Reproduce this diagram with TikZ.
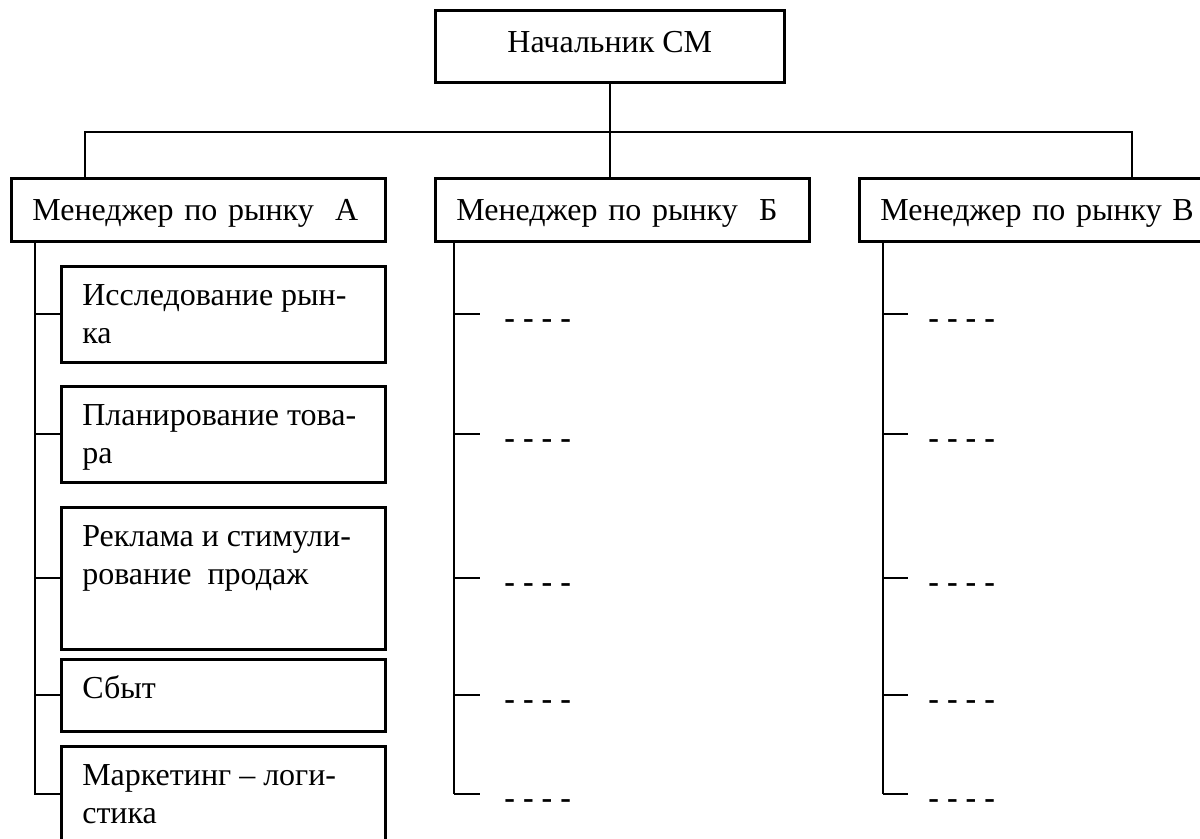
\documentclass[tikz,border=0pt]{standalone}
\usepackage{fontspec}
\setmainfont{Liberation Serif}
\usetikzlibrary{positioning}

% text of a department box, set from the top of the box
\newcommand{\subtext}[2]{\parbox[t][#1][t]{141pt}{\raggedright\rule{0pt}{19.5pt}#2}}

\begin{document}
\begin{tikzpicture}[x=0.5pt, y=-0.5pt,
	font=\fontsize{16}{19}\selectfont,
	box/.style={draw, line width=1.3pt, inner sep=0pt, anchor=north west},
	mgr/.style={box, minimum width=187pt, minimum height=31.5pt,
		inner xsep=10.5pt, text width=166pt, align=left,
		text height=10.5pt, text depth=0pt},
	sub/.style={box, inner xsep=10.5pt},
	line/.style={line width=1pt},
	dots/.style={inner sep=0pt, yshift=-5pt, font=\fontsize{16}{19}\selectfont\bfseries}]

	\useasboundingbox (0,0) rectangle (1200,839);
	\clip (0,0) rectangle (1200,839);

	\node[box, minimum width=174.5pt, minimum height=36pt,
		text height=10.5pt, text depth=4pt] (chief) at (434,9) {Начальник СМ};

	\node[mgr] (mA) at (10,177) {Менеджер по рынку~ А};
	\node[mgr] (mB) at (434,177) {Менеджер по рынку~ Б};
	\node[mgr] (mV) at (858,177) {Менеджер по рынку В};

	\node[sub] (s1) at (60,265) {\subtext{48pt}{Исследование рын-\\ка}};
	\node[sub] (s2) at (60,385) {\subtext{48pt}{Планирование това-\\ра}};
	\node[sub] (s3) at (60,506) {\subtext{71pt}{Реклама и стимули-\\рование~ продаж}};
	\node[sub] (s4) at (60,658) {\subtext{36pt}{Сбыт}};
	\node[sub] (s5) at (60,745) {\subtext{48pt}{Маркетинг – логи-\\стика}};

	% chief to the managers
	\coordinate (bus) at ([yshift=-24pt]chief.south);
	\draw[line] (chief.south) -- (chief.south |- mB.north);
	\draw[line] ([xshift=37.5pt]mA.north west) |- (bus)
	-| ([xshift=137pt]mV.north west);

	% spines under the managers
	\coordinate (spA) at ([xshift=12.5pt]mA.south west);
	\coordinate (spB) at ([xshift=10pt]mB.south west);
	\coordinate (spV) at ([xshift=12.5pt]mV.south west);

	\draw[line] (spA) |- (s5.west);
	\draw[line] (spB) -- (spB |- s5.west);
	\draw[line] (spV) -- (spV |- s5.west);

	\foreach \i in {1,...,4} {
			\draw[line] (spA |- s\i.west) -- (s\i.west);
		}

	\foreach \i in {1,...,5} {
			\draw[line] (spB |- s\i.west) -- ++(13pt,0) coordinate (tB\i);
			\draw[line] (spV |- s\i.west) -- ++(12.5pt,0) coordinate (tV\i);
			\node[dots, right=12pt of tB\i] (dB\i) {- - - -};
			\node[dots, right=10pt of tV\i] (dV\i) {- - - -};
		}
\end{tikzpicture}
\end{document}
